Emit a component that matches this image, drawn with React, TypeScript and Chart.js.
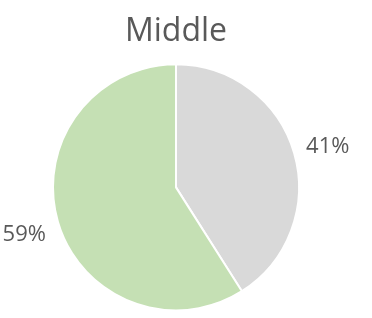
import React, { useEffect, useRef } from "react";
import { Chart, registerables } from "chart.js";

Chart.register(...registerables);

const titleText = "Middle";
const categories = ["Other", "Middle"];
const values = [41, 59];
const colors = ["#D9D9D9", "#C5E0B4"];

const outsideLabels = {
  id: "outsideLabels",
  afterDatasetsDraw(chart: any) {
    const ctx = chart.ctx;
    const meta = chart.getDatasetMeta(0);
    const data = chart.data.datasets[0].data as number[];
    const total = data.reduce((a, b) => a + b, 0);
    ctx.save();
    ctx.font = "22px 'Open Sans'";
    ctx.fillStyle = "#595959";
    ctx.textAlign = "center";
    ctx.textBaseline = "middle";
    meta.data.forEach((arc: any, i: number) => {
      const p = arc.getProps(["x", "y", "startAngle", "endAngle", "outerRadius"], true);
      const mid = (p.startAngle + p.endAngle) / 2;
      const r = p.outerRadius + 35;
      const x = p.x + Math.cos(mid) * r;
      const y = p.y + Math.sin(mid) * r + 3;
      ctx.fillText(Math.round((data[i] / total) * 100) + "%", x, y);
    });
    ctx.restore();
  },
};

export default function App() {
  const ref = useRef<HTMLCanvasElement>(null);
  useEffect(() => {
    document.body.style.margin = "0";
    const chart = new Chart(ref.current!, {
      type: "pie",
      data: {
        labels: categories,
        datasets: [
          {
            data: values,
            backgroundColor: colors,
            borderColor: "#FFFFFF",
            borderWidth: 2,
          },
        ],
      },
      options: {
        responsive: false,
        animation: false,
        layout: { padding: { top: 10, left: 52, right: 72, bottom: 6 } },
        plugins: {
          legend: { display: false },
          tooltip: { enabled: false },
          title: {
            display: true,
            text: titleText,
            color: "#595959",
            font: { family: "'Open Sans'", size: 32, weight: "normal", lineHeight: 1.2 },
            padding: { top: 3, bottom: 11.3 },
          },
        },
      },
      plugins: [outsideLabels],
    });
    return () => chart.destroy();
  }, []);
  return (
    <div style={{ width: 372, height: 318 }}>
      <canvas ref={ref} width={372} height={318} style={{ display: "block" }} />
    </div>
  );
}
